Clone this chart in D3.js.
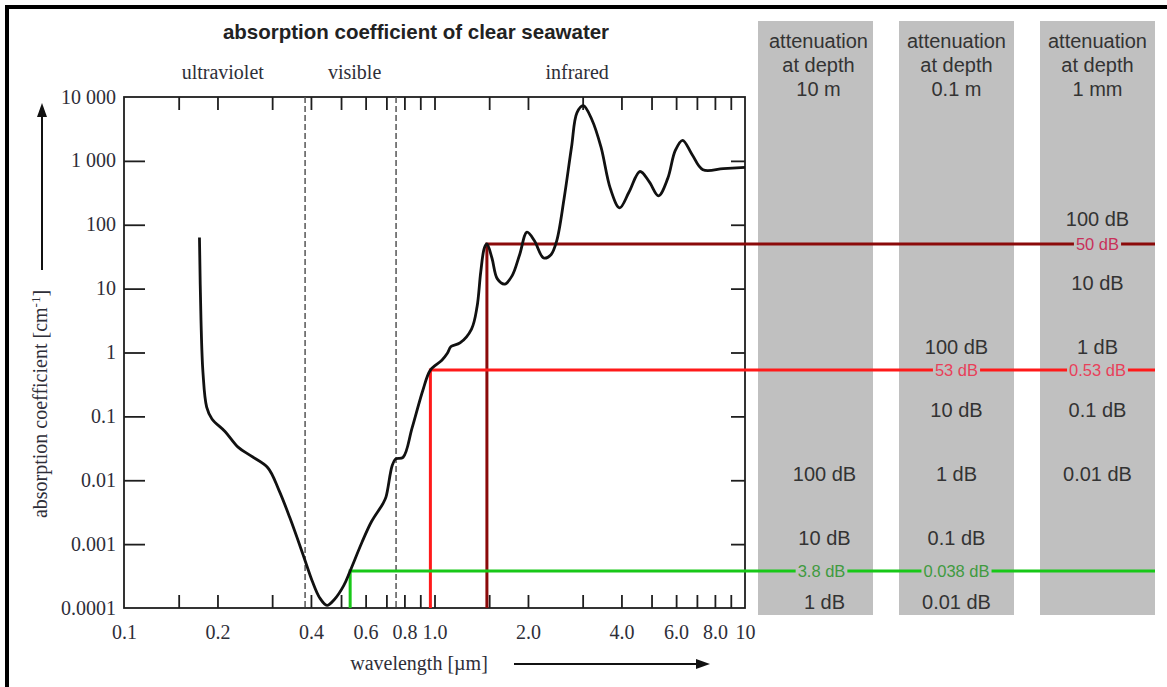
<!DOCTYPE html>
<html><head><meta charset="utf-8">
<script src="https://cdn.jsdelivr.net/npm/d3@7"></script>
<style>
html,body{margin:0;padding:0;background:#fff;}
svg{display:block;}
</style></head><body>
<svg id="chart" width="1167" height="687"></svg>
<script>
// Absorption spectrum of clear seawater: wavelength in µm, absorption coefficient in 1/cm
const wavelength = [0.175, 0.177, 0.1796, 0.1846, 0.192, 0.2115, 0.233, 0.2565, 0.2905, 0.3154,
  0.3424, 0.3771, 0.4032, 0.4266, 0.4506, 0.4759, 0.51, 0.535, 0.584, 0.627,
  0.681, 0.698, 0.730, 0.749, 0.792, 0.847, 0.918, 0.97, 1.056, 1.10,
  1.13, 1.208, 1.316, 1.371, 1.409, 1.448, 1.475, 1.531, 1.594, 1.684,
  1.779, 1.880, 1.986, 2.098, 2.247, 2.372, 2.475, 2.613, 2.762, 2.877,
  3.015, 3.211, 3.438, 3.686, 3.947, 4.228, 4.590, 4.918, 5.265, 5.640,
  5.960, 6.295, 6.745, 7.321, 8.512, 10];
const absorption = [63, 3.2, 0.49, 0.14, 0.091, 0.058, 0.033, 0.024, 0.0157, 0.0070,
  0.00256, 0.00069, 0.00027, 0.000145, 0.000110, 0.000136, 0.000224, 0.00038, 0.00107, 0.00226,
  0.00425, 0.0055, 0.0167, 0.0215, 0.0228, 0.066, 0.259, 0.53, 0.755, 0.97,
  1.24, 1.41, 2.33, 5.2, 18.2, 43.7, 50, 30.2, 14.2, 11.8,
  16.0, 34.0, 76.7, 56.1, 30.2, 34.0, 56.1, 253, 1637, 5700,
  7310, 4443, 1637, 365, 184, 322, 682, 469, 284, 532,
  1443, 2099, 1272, 724, 754, 793];

// Axis ticks and labels
const yTickValues = [1e4, 1e3, 100, 10, 1, 0.1, 0.01, 0.001, 1e-4];
const yTickLabels = ["10 000", "1 000", "100", "10", "1", "0.1", "0.01", "0.001", "0.0001"];
const xMinorTicks = [0.15, 0.2, 0.3, 0.4, 0.5, 0.6, 0.7, 0.8, 0.9, 1, 1.5, 2, 3, 4, 5, 6, 7, 8, 9];
const xLabelValues = [0.1, 0.2, 0.4, 0.6, 0.8, 1, 2, 4, 6, 8, 10];
const xLabelTexts = ["0.1", "0.2", "0.4", "0.6", "0.8", "1.0", "2.0", "4.0", "6.0", "8.0", "10"];

// Spectral bands: names, where their names sit, and the visible-band borders
const bandNames = ["ultraviolet", "visible", "infrared"];
const bandLabelAt = [0.208, 0.553, 2.88];
const bandBorders = [0.383, 0.752];

// Marked wavelengths and their absorption coefficients
const markWavelength = [1.475, 0.97, 0.535];
const markAbsorption = [50, 0.53, 0.00038];

// Depth columns (depth in cm) and the attenuation levels written in them
const depthNames = ["10 m", "0.1 m", "1 mm"];
const depthCm = [1000, 10, 0.1];
const dbLevels = [100, 10, 1, 0.1, 0.01];

const svg = d3.select("#chart");
const x = d3.scaleLog().domain([0.1, 10]).range([124, 745]);
const y = d3.scaleLog().domain([1e-4, 1e4]).range([608, 97]);

const serif = "'Liberation Serif','Times New Roman',serif";
const sans = "'Liberation Sans',Arial,sans-serif";
const labelInk = "#2e2e38";

// Frame edge of the figure
svg.append("path").attr("d", "M7,687V7H1167").attr("fill", "none")
  .attr("stroke", "#000").attr("stroke-width", 4);

// Depth columns
const colX = [758, 899, 1040], colW = 115, colTop = 21, colBottom = 615;
const colRight = colX[2] + colW;
const cols = svg.append("g");
depthNames.forEach((name, i) => {
  const cx = colX[i] + colW / 2;
  cols.append("rect").attr("x", colX[i]).attr("y", colTop).attr("width", colW)
    .attr("height", colBottom - colTop).attr("fill", "#c0c0c0");
  ["attenuation", "at depth", name].forEach((t, k) => {
    cols.append("text").attr("x", cx + (i === 0 ? 3 : 0)).attr("y", 41 + k * 24).attr("dy", "0.35em")
      .attr("text-anchor", "middle").attr("font-family", sans).attr("font-size", 20)
      .attr("fill", "#333").text(t);
  });
  const factor = 10 * depthCm[i];
  dbLevels.forEach(db => {
    const a = db / factor;
    if (a < 1e-4 * 0.999 || a > 1e4) return;
    cols.append("text").attr("x", cx + (i === 0 ? 9 : 0)).attr("y", y(a) - 6).attr("dy", "0.35em")
      .attr("text-anchor", "middle").attr("font-family", sans).attr("font-size", 20)
      .attr("fill", "#333").text(db + " dB");
  });
});

// Plot frame and ticks
const plot = svg.append("g");
plot.append("rect").attr("x", 124).attr("y", 97).attr("width", 621).attr("height", 511)
  .attr("fill", "none").attr("stroke", "#1e1e1e").attr("stroke-width", 1.8);

function tickAxis(axis, tf) {
  const g = plot.append("g").attr("transform", tf).call(axis);
  g.select(".domain").remove();
  g.selectAll("line").attr("stroke", "#1e1e1e").attr("stroke-width", 1.8);
  return g;
}
tickAxis(d3.axisBottom(x).tickValues(xMinorTicks).tickSize(-13).tickFormat(""), "translate(0,608)");
tickAxis(d3.axisTop(x).tickValues(xMinorTicks).tickSize(-13).tickFormat(""), "translate(0,97)");
const innerDecades = yTickValues.filter(v => v < 1e4 && v > 1e-4);
tickAxis(d3.axisLeft(y).tickValues(innerDecades).tickSize(-21).tickFormat(""), "translate(124,0)");
tickAxis(d3.axisRight(y).tickValues(innerDecades).tickSize(-14).tickFormat(""), "translate(745,0)");

// Tick labels
const xl = plot.append("g").attr("transform", "translate(0,608)")
  .call(d3.axisBottom(x).tickValues(xLabelValues).tickSize(0).tickPadding(17)
    .tickFormat((d, i) => xLabelTexts[i]));
xl.select(".domain").remove();
xl.selectAll("text").attr("font-family", serif).attr("font-size", 20).attr("fill", labelInk);

const yl = plot.append("g").attr("transform", "translate(124,0)")
  .call(d3.axisLeft(y).tickValues(yTickValues).tickSize(0).tickPadding(8)
    .tickFormat((d, i) => yTickLabels[i]));
yl.select(".domain").remove();
yl.selectAll("text").attr("font-family", serif).attr("font-size", 20).attr("fill", labelInk)
  .attr("dy", "0.3em");

// Visible band borders
bandBorders.forEach(b => {
  plot.append("line").attr("x1", x(b)).attr("x2", x(b)).attr("y1", 97).attr("y2", 608)
    .attr("stroke", "#555").attr("stroke-width", 1.5).attr("stroke-dasharray", "6,3");
});
bandNames.forEach((n, i) => {
  plot.append("text").attr("x", x(bandLabelAt[i])).attr("y", 73).attr("dy", "0.3em")
    .attr("text-anchor", "middle").attr("font-family", serif).attr("font-size", 20)
    .attr("fill", labelInk).text(n);
});

// Title
svg.append("text").attr("x", 416).attr("y", 32).attr("dy", "0.35em").attr("text-anchor", "middle")
  .attr("font-family", sans).attr("font-weight", "bold").attr("font-size", 20.5)
  .attr("fill", "#222").text("absorption coefficient of clear seawater");

// Axis titles with arrows
svg.append("text").attr("x", 419).attr("y", 664).attr("dy", "0.3em").attr("text-anchor", "middle")
  .attr("font-family", serif).attr("font-size", 20).attr("fill", labelInk).text("wavelength [µm]");
svg.append("line").attr("x1", 514).attr("x2", 698).attr("y1", 664).attr("y2", 664)
  .attr("stroke", "#111").attr("stroke-width", 2);
svg.append("path").attr("d", "M710,664L696,659L696,669Z").attr("fill", "#111");

const yt = svg.append("text").attr("transform", "translate(41,404) rotate(-90)").attr("dy", "0.3em")
  .attr("text-anchor", "middle").attr("font-family", serif).attr("font-size", 20).attr("fill", labelInk);
yt.append("tspan").text("absorption coefficient [cm");
yt.append("tspan").attr("baseline-shift", "super").attr("font-size", 13).text("-1");
yt.append("tspan").text("]");
svg.append("line").attr("x1", 42).attr("x2", 42).attr("y1", 270).attr("y2", 115)
  .attr("stroke", "#111").attr("stroke-width", 2);
svg.append("path").attr("d", "M42,103L37,117L47,117Z").attr("fill", "#111");

// Marked wavelengths carried over to the depth columns
const markColors = ["#8b0a0a", "#ff1a1a", "#18c818"];
const markText = ["#c8305a", "#e8405a", "#3f9a3f"];
markWavelength.forEach((w, i) => {
  svg.append("path")
    .attr("d", `M${x(w)},608V${y(markAbsorption[i])}H${colRight}`)
    .attr("fill", "none").attr("stroke", markColors[i]).attr("stroke-width", 3);
});
markWavelength.forEach((w, i) => {
  depthCm.forEach((d, j) => {
    const db = markAbsorption[i] * 10 * d;
    if (db > 100.5 || db < 0.0099) return;
    const cx = colX[j] + colW / 2 + (j === 0 ? 6 : 0);
    const t = svg.append("text").attr("x", cx).attr("y", y(markAbsorption[i])).attr("dy", "0.35em")
      .attr("text-anchor", "middle").attr("font-family", sans).attr("font-size", 16.5)
      .attr("fill", markText[i]).text(parseFloat(db.toPrecision(2)) + " dB");
    const bb = t.node().getBBox();
    svg.insert("rect", () => t.node()).attr("x", bb.x - 2).attr("y", y(markAbsorption[i]) - 3)
      .attr("width", bb.width + 4).attr("height", 6).attr("fill", "#c0c0c0");
  });
});

// Absorption curve
const pts = wavelength.map((w, i) => [w, absorption[i]]);
svg.append("path").datum(pts)
  .attr("d", d3.line().x(d => x(d[0])).y(d => y(d[1])).curve(d3.curveCatmullRom.alpha(0.5)))
  .attr("fill", "none").attr("stroke", "#111").attr("stroke-width", 2.8)
  .attr("stroke-linejoin", "round");
</script>
</body></html>
